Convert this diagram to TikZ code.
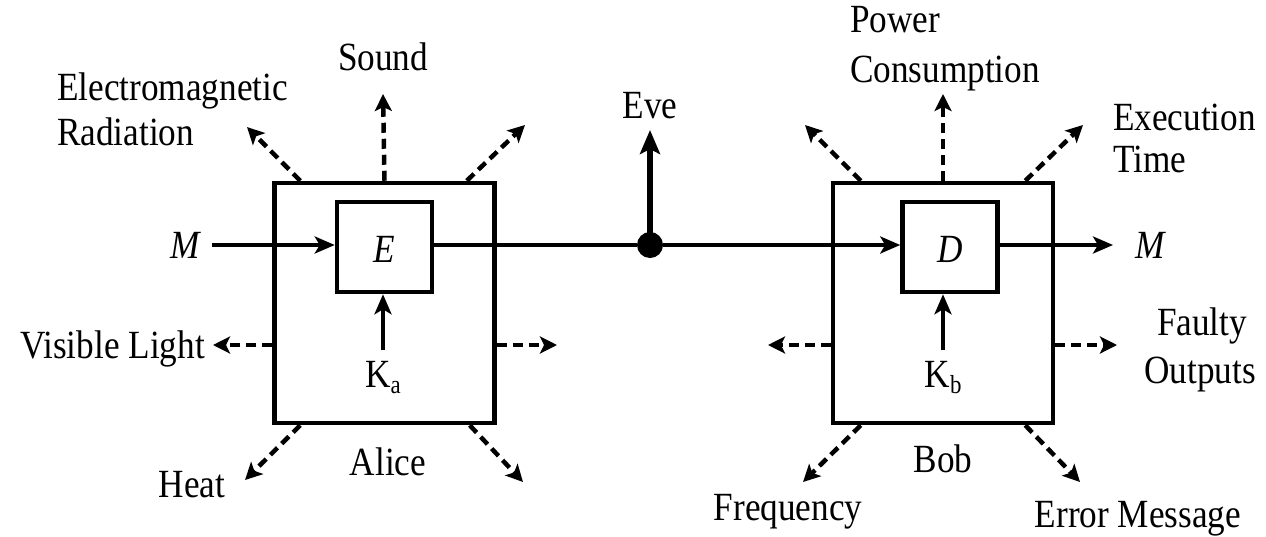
\documentclass[tikz,border=0pt]{standalone}
\usepackage{fontspec}
\setmainfont[FakeStretch=0.88]{Liberation Serif}
\usetikzlibrary{arrows.meta,calc}
\begin{document}
\begin{tikzpicture}[x=1pt,y=-1pt,
  lbl/.style={font=\fontsize{40}{45}\selectfont,inner sep=0pt,anchor=base},
  outerbox/.style={draw,line width=4.5pt,minimum width=220pt,minimum height=240pt,inner sep=0pt},
  innerbox/.style={draw,line width=4.5pt,minimum width=95pt,minimum height=90pt,inner sep=0pt},
  solidarrow/.style={line width=4pt,-{Stealth[length=20pt,width=17pt,inset=5pt]}},
  leak/.style={line width=4.5pt,dash pattern=on 10pt off 6pt,-{Stealth[length=17pt,width=17pt,inset=4pt]}},
  eve/.style={line width=5.5pt,-{Stealth[length=24pt,width=20pt,inset=5pt]}}
]
\useasboundingbox (0,0) rectangle (1266,536);
% boxes
\node[outerbox] (alice) at (384.5,303) {};
\node[innerbox] (E) at (384.5,247) {};
\node[lbl,font=\fontsize{40}{45}\selectfont\itshape] (Elbl) at (384.5,262) {E};
\node[outerbox] (bob) at (943,303) {};
\node[innerbox] (D) at (950,247) {};
\node[lbl,font=\fontsize{40}{45}\selectfont\itshape] (Dlbl) at (950,262) {D};
% keys
\node[lbl] (Ka) at (383,387) {K\raisebox{-6pt}{\fontsize{26}{26}\selectfont a}};
\node[lbl] (Kb) at (943,387) {K\raisebox{-6pt}{\fontsize{26}{26}\selectfont b}};
\coordinate (Kas) at (383,350);
\coordinate (Kbs) at (943,350);
\draw[solidarrow] (Kas) -- (E.south -| Kas);
\draw[solidarrow] (Kbs) -- (D.south -| Kbs);
% message line
\node[lbl,font=\fontsize{40}{45}\selectfont\itshape] (Min) at (185,258) {M};
\node[lbl,font=\fontsize{40}{45}\selectfont\itshape] (Mout) at (1150,258) {M};
\coordinate (Ms) at (212,245);
\coordinate (Me) at (1113,245);
\draw[solidarrow] (Ms) -- (Ms -| E.west);
\node[circle,fill,inner sep=0pt,minimum size=26pt] (dot) at (650,245) {};
\draw[line width=4pt] (E.east |- Ms) -- (dot);
\draw[solidarrow] (dot) -- (D.west |- Ms);
\draw[solidarrow] (D.east |- Ms) -- (Me);
\coordinate (evetip) at (650,130);
\draw[eve] (dot.center) -- (evetip);
\node[lbl] (Eve) at (650,118) {Eve};
% Alice leaks
\coordinate (a1) at (247,127); \coordinate (a2) at (383,94); \coordinate (a3) at (525,125);
\coordinate (a4) at (213,345); \coordinate (a5) at (557,345);
\coordinate (a6) at (245,480); \coordinate (a7) at (523,482);
\draw[leak] ($(alice.north west)+(28,0)$) -- (a1);
\draw[leak] (alice.north) -- (a2);
\draw[leak] ($(alice.north east)+(-30,0)$) -- (a3);
\draw[leak] (alice.west |- a4) -- (a4);
\draw[leak] (alice.east |- a5) -- (a5);
\draw[leak] ($(alice.south west)+(28,0)$) -- (a6);
\draw[leak] ($(alice.south east)+(-27,0)$) -- (a7);
% Bob leaks
\coordinate (b1) at (805,125); \coordinate (b2) at (943,94); \coordinate (b3) at (1083,125);
\coordinate (b4) at (768,345); \coordinate (b5) at (1117,345);
\coordinate (b6) at (803,482); \coordinate (b7) at (1080,482);
\draw[leak] ($(bob.north west)+(30,0)$) -- (b1);
\draw[leak] (bob.north) -- (b2);
\draw[leak] ($(bob.north east)+(-30,0)$) -- (b3);
\draw[leak] (bob.west |- b4) -- (b4);
\draw[leak] (bob.east |- b5) -- (b5);
\draw[leak] ($(bob.south west)+(30,0)$) -- (b6);
\draw[leak] ($(bob.south east)+(-30,0)$) -- (b7);
% labels
\node[lbl,anchor=base west] (em1) at (57,100) {Electromagnetic};
\node[lbl,anchor=base west] (em2) at (57,145) {Radiation};
\node[lbl] (sound) at (383,70) {Sound};
\node[lbl,anchor=base east] (vis) at (205,358) {Visible Light};
\node[lbl] (heat) at (192,497) {Heat};
\node[lbl] (alicelbl) at (388,475) {Alice};
\node[lbl,anchor=base west] (pw1) at (850,32) {Power};
\node[lbl,anchor=base west] (pw2) at (850,82) {Consumption};
\node[lbl,anchor=base west] (ex1) at (1113,130) {Execution};
\node[lbl,anchor=base west] (ex2) at (1113,172) {Time};
\node[lbl] (fo1) at (1202,335) {Faulty};
\node[lbl] (fo2) at (1200,383) {Outputs};
\node[lbl] (boblbl) at (943,472) {Bob};
\node[lbl] (freq) at (788,520) {Frequency};
\node[lbl] (err) at (1138,527) {Error Message};
\end{tikzpicture}
\end{document}
